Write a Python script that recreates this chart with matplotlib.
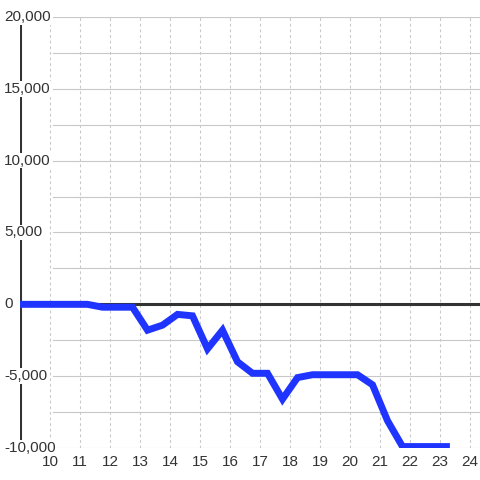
import matplotlib
matplotlib.use("Agg")
import matplotlib.pyplot as plt
from matplotlib.transforms import blended_transform_factory

plt.rcParams['font.family'] = ['Liberation Sans', 'DejaVu Sans']

# data
hours = [8.75, 9.25, 9.75, 10.25, 10.75, 11.25, 11.75, 12.25, 12.75, 13.25,
         13.75, 14.25, 14.75, 15.25, 15.75, 16.25, 16.75, 17.25, 17.75, 18.25,
         18.75, 19.25, 19.75, 20.25, 20.75, 21.25, 21.75, 22.25, 22.75, 23.33]
values = [0, 0, 0, 0, 0, 0, -200, -200, -200, -1800,
          -1450, -700, -800, -3100, -1800, -4000, -4800, -4800, -6600, -5100,
          -4900, -4900, -4900, -4900, -5600, -8100, -9900, -9900, -9900, -9900]
x_ticks = list(range(10, 25))
y_ticks = [20000, 15000, 10000, 5000, 0, -5000, -10000]
y_grid = list(range(-10000, 20001, 2500))

W = H = 480
fig = plt.figure(figsize=(4.8, 4.8), dpi=100)
ax = fig.add_axes([20 / W, 32 / H, 460 / W, (448 - 17) / H])
ax.set_xlim(9, 9 + 460 / 30)
ax.set_ylim(-10000, 20000)
for s in ax.spines.values():
    s.set_visible(False)
ax.set_xticks([])
ax.set_yticks([])

grid_c = '#c8c8c8'
dark = '#333333'
gx0 = (53 - 20) / 460
for v in y_grid:
    if v != 0:
        ax.axhline(v, xmin=gx0, color=grid_c, lw=0.8, zorder=1)
for k in x_ticks:
    ax.axvline(k, color=grid_c, lw=0.75, ls=(0, (2.7, 2.7)), zorder=1)

ax.axhline(0, color=dark, lw=2.2, zorder=2)
ax.axvline(9, color=dark, lw=2.2, zorder=2)

ax.plot(hours, values, color='#1f35ff', lw=5.0, zorder=3,
        solid_joinstyle='miter', solid_capstyle='butt')

# y labels with white background covering the axis line
tr = blended_transform_factory(fig.transFigure, ax.transData)
for v in y_ticks:
    ax.text(4 / W, v, f"{v:,}", transform=tr, ha='left', va='center',
            fontsize=11, color=dark, zorder=5,
            bbox=dict(facecolor='white', edgecolor='none', pad=0.5))

# x labels
trx = blended_transform_factory(ax.transData, fig.transFigure)
for k in x_ticks:
    ax.text(k, (H - 462) / H, str(k), transform=trx, ha='center', va='center',
            fontsize=11, color=dark, zorder=5, clip_on=False)

fig.savefig('out.png', dpi=100, facecolor='white')
